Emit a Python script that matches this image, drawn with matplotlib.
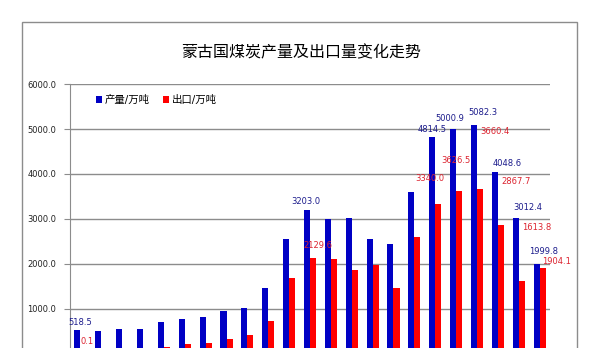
import numpy as np
import matplotlib
matplotlib.use("Agg")
import matplotlib.pyplot as plt
from matplotlib.patches import Rectangle

plt.rcParams['font.family'] = ['DejaVu Sans', 'Noto Sans CJK SC']

years = [str(y) for y in range(2000, 2023)]
output = [518.5, 505, 555, 555, 690, 766, 811, 946, 1007, 1457, 2540,
          3203.0, 3005, 3025, 2550, 2440, 3590, 4814.5, 5000.9, 5082.3,
          4048.6, 3012.4, 1999.8]
export = [0.1, 10, 30, 60, 150, 212, 240, 330, 415, 715, 1675,
          2129.6, 2100, 1863, 1968, 1457, 2600, 3340.0, 3626.5, 3660.4,
          2867.7, 1613.8, 1904.1]
yticks = [1000, 2000, 3000, 4000, 5000, 6000]

# which bars carry a value label, and the label offset (pixels) from the bar top
out_labels = {0: (3, 8), 11: (-1, 8), 17: (0, 8), 18: (-3, 11), 19: (9, 13),
              20: (12, 8), 21: (12, 11), 22: (7, 12)}
exp_labels = {0: (4, 12), 11: (5, 12), 17: (-8, 25), 18: (-3, 30), 19: (15, 58),
              20: (15, 43), 21: (15, 54), 22: (14, 6)}

BLUE = "#0000c4"
RED = "#ff0000"

fig = plt.figure(figsize=(5.98, 3.48), dpi=100)

# outer chart frame
fig.patches.append(Rectangle((22 / 598, -0.2), (577 - 22) / 598, 1.2 - 22 / 348,
                             transform=fig.transFigure, fill=False,
                             edgecolor="#8c8c8c", linewidth=1.0))
fig.text(301 / 598, 1 - 53 / 348, "蒙古国煤炭产量及出口量变化走势",
         ha="center", va="center", fontsize=11.5, family=['Noto Sans CJK SC'])

ax = fig.add_axes([70 / 598, -0.0155, 480 / 598, 0.7733])
x = np.arange(len(years))
w = 0.29
b1 = ax.bar(x - w, output, w, align="edge", color=BLUE, label="产量/万吨")
b2 = ax.bar(x, export, w, align="edge", color=RED, label="出口/万吨")

ax.set_xlim(-0.5, len(years) - 0.5)
ax.set_ylim(0, 6000)
ax.set_yticks(yticks)
ax.set_yticklabels([f"{v:.1f}" for v in yticks])
ax.set_xticks([])
ax.yaxis.grid(True, color="#8c8c8c", linewidth=1.0)
ax.set_axisbelow(True)
for s in ["top", "right", "bottom"]:
    ax.spines[s].set_visible(False)
ax.spines["left"].set_color("#8c8c8c")
ax.tick_params(axis="y", length=4, color="#8c8c8c", labelsize=6, pad=6,
               labelcolor="#222222")

for i, (dx, dy) in out_labels.items():
    ax.annotate(f"{output[i]:.1f}", (x[i] - w / 2, output[i]), xytext=(dx, dy),
                textcoords="offset pixels", ha="center", va="center",
                fontsize=6, color="#1c1c8c")
for i, (dx, dy) in exp_labels.items():
    ax.annotate(f"{export[i]:.1f}", (x[i] + w / 2, export[i]), xytext=(dx, dy),
                textcoords="offset pixels", ha="center", va="center",
                fontsize=6, color="#dc2430")

ax.legend(handles=[b1, b2], loc="upper left", bbox_to_anchor=(0.045, 0.975),
          frameon=False, ncol=2, handlelength=0.6, handleheight=0.6,
          handletextpad=0.3, columnspacing=1.2, borderaxespad=0,
          prop={'family': ['DejaVu Sans', 'Noto Sans CJK SC'], 'size': 7.5})

fig.savefig("out.png", dpi=100)
